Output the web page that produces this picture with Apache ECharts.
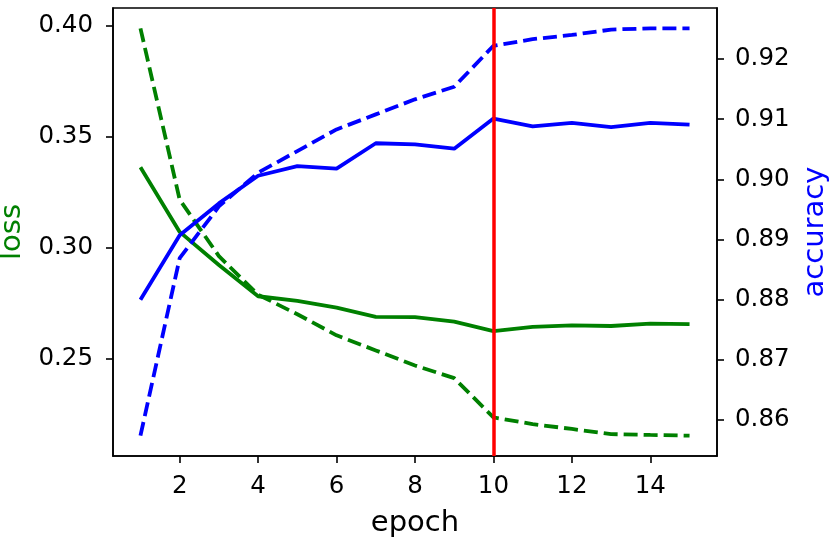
<!DOCTYPE html>
<html>
<head>
<meta charset="utf-8">
<script src="https://cdn.jsdelivr.net/npm/echarts@6/dist/echarts.min.js"></script>
<style>
  html, body { margin: 0; padding: 0; background: #fff; }
  #chart { width: 830px; height: 537px; }
</style>
</head>
<body>
<div id="chart"></div>
<script>
// epochs and the four curves
var epochs = [1, 2, 3, 4, 5, 6, 7, 8, 9, 10, 11, 12, 13, 14, 15];
var valLoss = [0.3362, 0.3071, 0.2922, 0.2781, 0.2760, 0.2730, 0.2688, 0.2687, 0.2667, 0.2624, 0.2643, 0.2650, 0.2647, 0.2658, 0.2655];
var trainLoss = [0.3988, 0.3216, 0.2962, 0.2788, 0.2700, 0.2605, 0.2537, 0.2469, 0.2412, 0.2235, 0.2205, 0.2183, 0.2160, 0.2156, 0.2153];
var valAcc = [0.8800, 0.8907, 0.8960, 0.9006, 0.9022, 0.9018, 0.9060, 0.9058, 0.9051, 0.9101, 0.9088, 0.9094, 0.9087, 0.9094, 0.9091];
var trainAcc = [0.8574, 0.8869, 0.8955, 0.9011, 0.9047, 0.9083, 0.9108, 0.9133, 0.9154, 0.9222, 0.9233, 0.9240, 0.9249, 0.9251, 0.9251];
var bestEpoch = 10;

var xTicks = [2, 4, 6, 8, 10, 12, 14];
var lossTicks = [0.25, 0.30, 0.35, 0.40];
var accTicks = [0.86, 0.87, 0.88, 0.89, 0.90, 0.91, 0.92];

var FONT = 'DejaVu Sans';

// matplotlib style 5% margins
function pad(lists) {
    var all = [].concat.apply([], lists);
    var lo = Math.min.apply(null, all), hi = Math.max.apply(null, all);
    var m = (hi - lo) * 0.05;
    return [lo - m, hi + m];
}
var xr = pad([epochs]);
var lr = pad([valLoss, trainLoss]);
var ar = pad([valAcc, trainAcc]);

function pairs(ys) {
    return epochs.map(function(e, i) { return [e, ys[i]]; });
}

function yAxisOf(name, color, pos, range, ticks, gap, labelGap) {
    return {
        type: 'value',
        position: pos,
        min: range[0],
        max: range[1],
        name: name,
        nameLocation: 'middle',
        nameRotate: 90,
        nameGap: gap,
        nameTextStyle: { color: color, fontSize: 29, fontFamily: FONT },
        axisLine: { show: true, lineStyle: { color: '#000', width: 1.6 } },
        axisTick: { show: true, length: 7, customValues: ticks, lineStyle: { color: '#000', width: 1.6 } },
        axisLabel: {
            customValues: ticks, margin: labelGap, color: '#000', fontSize: 24.5, fontFamily: FONT,
            formatter: function(v) { return v.toFixed(2); }
        },
        splitLine: { show: false }
    };
}

function curve(name, ys, color, dashed, axis) {
    return {
        name: name,
        type: 'line',
        yAxisIndex: axis,
        data: pairs(ys),
        showSymbol: false,
        symbol: 'none',
        z: 2 + axis,
        lineStyle: { color: color, width: 3.8, type: dashed ? [14, 6] : 'solid', cap: 'butt' }
    };
}

var myChart = echarts.init(document.getElementById('chart'));
var option = {
    animation: false,
    backgroundColor: '#fff',
    grid: {
        left: 113, right: 113, top: 8, bottom: 81,
        outerBoundsMode: 'none',
        containLabel: false,
        show: true, borderColor: '#000', borderWidth: 1.6, backgroundColor: 'transparent'
    },
    xAxis: {
        type: 'value',
        min: xr[0],
        max: xr[1],
        name: 'epoch',
        nameLocation: 'middle',
        nameGap: 53,
        nameTextStyle: { color: '#000', fontSize: 29, fontFamily: FONT },
        axisLine: { show: true, lineStyle: { color: '#000', width: 1.6 } },
        axisTick: { show: true, length: 7, customValues: xTicks, lineStyle: { color: '#000', width: 1.6 } },
        axisLabel: { customValues: xTicks, margin: 18, color: '#000', fontSize: 24.5, fontFamily: FONT },
        splitLine: { show: false }
    },
    yAxis: [
        yAxisOf('loss', '#008000', 'left', lr, lossTicks, 86, 20),
        yAxisOf('accuracy', '#0000ff', 'right', ar, accTicks, 84, 18)
    ],
    series: [
        curve('val loss', valLoss, '#008000', false, 0),
        curve('train loss', trainLoss, '#008000', true, 0),
        curve('val acc', valAcc, '#0000ff', false, 1),
        curve('train acc', trainAcc, '#0000ff', true, 1),
        {
            name: 'best',
            type: 'line',
            yAxisIndex: 1,
            data: [],
            z: 10,
            markLine: {
                silent: true,
                symbol: 'none',
                label: { show: false },
                lineStyle: { color: '#ff0000', width: 3.5, type: 'solid' },
                data: [{ xAxis: bestEpoch }]
            }
        }
    ]
};
myChart.setOption(option);
</script>
</body>
</html>
